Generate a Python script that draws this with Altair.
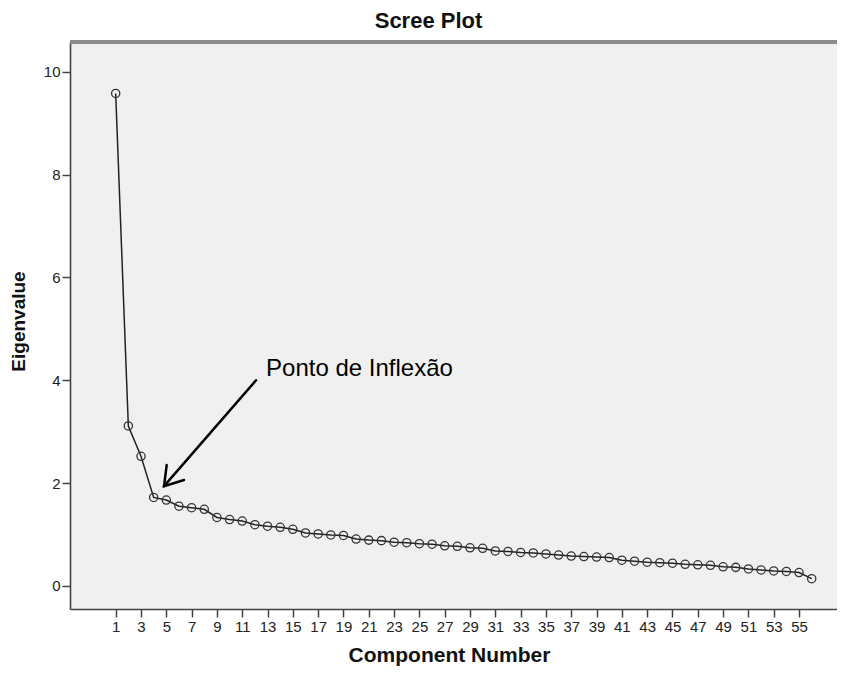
import altair as alt
import pandas as pd

# ---- data ----
components = list(range(1, 57))
eigenvalues = [
    9.58, 3.11, 2.52, 1.72, 1.67, 1.55, 1.52, 1.49, 1.33, 1.29,
    1.26, 1.19, 1.16, 1.14, 1.10, 1.03, 1.01, 0.99, 0.98, 0.91,
    0.89, 0.88, 0.85, 0.84, 0.82, 0.81, 0.78, 0.77, 0.74, 0.73,
    0.68, 0.67, 0.65, 0.64, 0.62, 0.60, 0.58, 0.57, 0.56, 0.55,
    0.50, 0.48, 0.46, 0.45, 0.44, 0.42, 0.41, 0.40, 0.37, 0.36,
    0.33, 0.31, 0.29, 0.28, 0.26, 0.14,
]
x_ticks = list(range(1, 56, 2))
y_ticks = [0, 2, 4, 6, 8, 10]

# annotation arrow (in data units: component, eigenvalue)
arrow_part = ["shaft", "shaft", "head", "head", "head"]
arrow_order = [0, 1, 0, 1, 2]
arrow_x = [12.09, 4.82, 5.03, 4.82, 6.40]
arrow_y = [4.00, 1.94, 2.35, 1.94, 2.06]

label_text = ["Ponto de Inflexão"]
label_x = [12.88]
label_y = [4.08]

x_domain = [-2.61, 58.0]
y_domain = [-0.45, 10.58]

FONT = "Liberation Sans"
W, H = 767, 567

df = pd.DataFrame({"component": components, "eigenvalue": eigenvalues})
arrow_df = pd.DataFrame({"part": arrow_part, "ord": arrow_order,
                         "component": arrow_x, "eigenvalue": arrow_y})
label_df = pd.DataFrame({"text": label_text, "component": label_x, "eigenvalue": label_y})


def x_enc():
    return alt.X(
        "component:Q",
        scale=alt.Scale(domain=x_domain, nice=False, zero=False),
        axis=alt.Axis(values=x_ticks, title="Component Number", titleFontSize=21,
                      titleX=379, titleY=52, titleBaseline="alphabetic",
                      titleAlign="center"),
    )


def y_enc():
    return alt.Y(
        "eigenvalue:Q",
        scale=alt.Scale(domain=y_domain, nice=False, zero=False),
        axis=alt.Axis(values=y_ticks, title="Eigenvalue", titleFontSize=19,
                      titleX=-46, titleY=279, titleBaseline="alphabetic",
                      titleAlign="center", titleAngle=270),
    )


base = alt.Chart(df)

line = base.mark_line(color="#222222", strokeWidth=1.5).encode(x=x_enc(), y=y_enc())
points = base.mark_point(shape="circle", filled=False, size=68, color="#333333",
                         strokeWidth=1.3, opacity=1).encode(x=x_enc(), y=y_enc())

arrow = alt.Chart(arrow_df).mark_line(color="#000000", strokeWidth=2.5,
                                      strokeCap="round", strokeJoin="miter").encode(
    x=x_enc(), y=y_enc(), detail="part:N", order="ord:Q"
)

label = alt.Chart(label_df).mark_text(
    align="left", baseline="alphabetic", font=FONT, fontSize=24, color="#000000"
).encode(x=x_enc(), y=y_enc(), text="text:N")

# top border of the plot frame (the right side runs off the picture in the reference)
top_border = alt.Chart(df).mark_rule(color="#8c8c8c", strokeWidth=2.5).encode(
    x=alt.value(0), x2=alt.value(W), y=alt.value(0)
)

chart = alt.layer(line, points, arrow, label, top_border).properties(
    width=W,
    height=H,
    autosize=alt.AutoSizeParams(type="none"),
    padding={"left": 62, "top": 34, "right": 0, "bottom": 57},
    title=alt.TitleParams("Scree Plot", font=FONT, fontSize=22, fontWeight="bold",
                          color="#111111", dx=-25, offset=8),
).configure_view(
    fill="#f0f0f0", stroke=None
).configure_axis(
    domainColor="#444444", domainWidth=1.6, tickColor="#444444", tickWidth=1.5,
    tickSize=8, labelFont=FONT, labelFontSize=15, labelColor="#222222",
    labelPadding=2, titleFont=FONT, titleFontWeight="bold", titleColor="#111111",
    grid=False,
)

chart.save("out.html", embed_options={"renderer": "svg", "actions": False})
